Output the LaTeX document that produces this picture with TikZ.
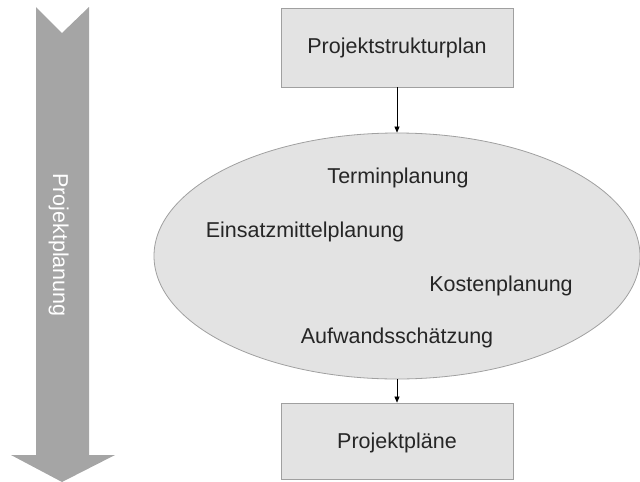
\documentclass[tikz,border=0pt]{standalone}
\usepackage{fontspec}
\setmainfont{Liberation Sans}
\usetikzlibrary{shapes.geometric,arrows.meta}
\definecolor{bandgray}{HTML}{A5A5A5}
\definecolor{boxfill}{HTML}{E3E3E3}
\definecolor{boxline}{HTML}{A0A0A0}
\definecolor{txt}{HTML}{262626}
\tikzset{
  plainfont/.style={font=\fontsize{21.5}{26}\selectfont},
  planbox/.style={draw=boxline, fill=boxfill, line width=0.8pt, rectangle,
    minimum width=232pt, inner sep=0pt, text=txt, plainfont},
  planellipse/.style={draw=boxline, fill=boxfill, line width=0.8pt, ellipse,
    minimum width=486pt, minimum height=246pt, inner sep=0pt},
  itemtext/.style={text=txt, plainfont, anchor=base, inner sep=0pt},
  link/.style={draw=black, line width=0.6pt, -{Triangle[length=6pt,width=5pt]}}
}
\begin{document}
\begin{tikzpicture}[x=1pt,y=-1pt]
  \useasboundingbox (0,0) rectangle (640,482);
  % phase band on the left
  \fill[bandgray] (36,7) -- (62,33) -- (89,7) -- (89,455) -- (115,455)
    -- (62,482) -- (11,455) -- (36,455) -- cycle;
  \node[plainfont, text=white, rotate=-90, anchor=base, inner sep=0pt]
    (phase) at (53,245) {Projektplanung};
  % planning flow
  \node[planbox, minimum height=79pt] (psp) at (397,47.5) {};
  \node[itemtext] (psplabel) at (397,53.5) {Projektstrukturplan};
  \node[planellipse] (plan) at (397,256) {};
  \node[itemtext] (termin) at (398,183.5) {Terminplanung};
  \node[itemtext] (einsatz) at (305,237) {Einsatzmittelplanung};
  \node[itemtext] (kosten) at (501,291) {Kostenplanung};
  \node[itemtext] (aufwand) at (397,343.5) {Aufwandsschätzung};
  \node[planbox, minimum height=76pt] (plaene) at (397,441) {};
  \node[itemtext] (plaenelabel) at (397,448.3) {Projektpläne};
  \draw[link] (psp.south) -- (plan.north);
  \draw[link] (plan.south) -- (plaene.north);
\end{tikzpicture}
\end{document}
